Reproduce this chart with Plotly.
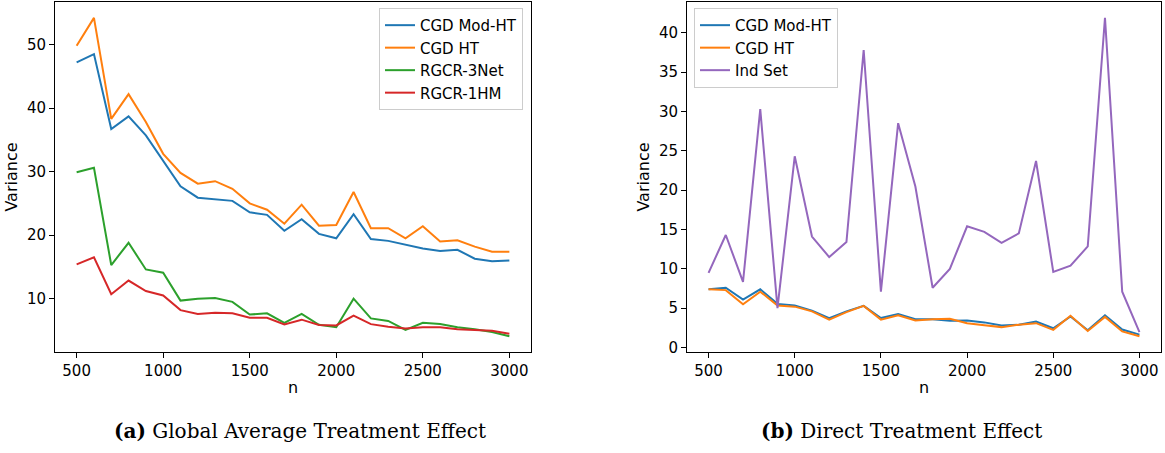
import plotly.graph_objects as go

n = [500, 600, 700, 800, 900, 1000, 1100, 1200, 1300, 1400, 1500, 1600, 1700,
     1800, 1900, 2000, 2100, 2200, 2300, 2400, 2500, 2600, 2700, 2800, 2900, 3000]

# (a) Global Average Treatment Effect
gate_cgd_mod_ht = [47.2, 48.5, 36.7, 38.7, 35.7, 31.7, 27.7, 25.9, 25.7, 25.4, 23.6, 23.2, 20.7,
                   22.5, 20.2, 19.5, 23.3, 19.4, 19.1, 18.5, 17.9, 17.5, 17.7, 16.3, 15.9, 16.0]
gate_cgd_ht = [49.8, 54.2, 38.3, 42.2, 37.8, 32.8, 29.8, 28.1, 28.5, 27.3, 25.0, 24.0, 21.8,
               24.8, 21.5, 21.6, 26.8, 21.1, 21.1, 19.5, 21.4, 19.0, 19.2, 18.2, 17.4, 17.4]
gate_rgcr_3net = [29.9, 30.6, 15.3, 18.8, 14.6, 14.1, 9.7, 10.0, 10.1, 9.5, 7.5, 7.7, 6.2,
                  7.6, 5.9, 5.5, 10.0, 6.9, 6.5, 5.1, 6.2, 6.0, 5.5, 5.2, 4.75, 4.1]
gate_rgcr_1hm = [15.4, 16.5, 10.7, 12.85, 11.2, 10.5, 8.2, 7.6, 7.8, 7.7, 7.0, 7.0, 5.95,
                 6.7, 5.85, 5.8, 7.35, 6.0, 5.6, 5.3, 5.5, 5.5, 5.2, 5.1, 4.95, 4.5]

# (b) Direct Treatment Effect
dte_cgd_mod_ht = [7.4, 7.6, 6.1, 7.4, 5.55, 5.35, 4.7, 3.75, 4.6, 5.3, 3.75, 4.25, 3.6,
                  3.6, 3.4, 3.45, 3.2, 2.8, 2.9, 3.3, 2.45, 3.95, 2.2, 4.1, 2.3, 1.65]
dte_cgd_ht = [7.4, 7.3, 5.5, 7.1, 5.35, 5.2, 4.6, 3.55, 4.5, 5.3, 3.55, 4.1, 3.45,
              3.6, 3.65, 3.1, 2.85, 2.6, 2.9, 3.1, 2.25, 4.05, 2.1, 3.9, 2.05, 1.45]
dte_ind_set = [9.5, 14.3, 8.35, 30.3, 5.0, 24.3, 14.1, 11.5, 13.4, 37.8, 7.1, 28.5, 20.45,
               7.6, 10.0, 15.4, 14.7, 13.3, 14.5, 23.7, 9.6, 10.4, 12.85, 41.9, 7.1, 1.96]

x_ticks = [500, 1000, 1500, 2000, 2500, 3000]
left_y_ticks = [10, 20, 30, 40, 50]
right_y_ticks = [0, 5, 10, 15, 20, 25, 30, 35, 40]
captions = ["<b>(a)</b> Global Average Treatment Effect", "<b>(b)</b> Direct Treatment Effect"]

BLUE, ORANGE, GREEN, RED, PURPLE = "#1f77b4", "#ff7f0e", "#2ca02c", "#d62728", "#9467bd"
W, H = 1165, 453
FONT = "DejaVu Sans"

fig = go.Figure()

def add(x, y, name, color, xa, ya, legend):
    fig.add_trace(go.Scatter(x=x, y=y, name=name, mode="lines",
                             line=dict(color=color, width=2),
                             xaxis=xa, yaxis=ya, legend=legend))

add(n, gate_cgd_mod_ht, "CGD Mod-HT", BLUE, "x", "y", "legend")
add(n, gate_cgd_ht, "CGD HT", ORANGE, "x", "y", "legend")
add(n, gate_rgcr_3net, "RGCR-3Net", GREEN, "x", "y", "legend")
add(n, gate_rgcr_1hm, "RGCR-1HM", RED, "x", "y", "legend")

add(n, dte_cgd_mod_ht, "CGD Mod-HT", BLUE, "x2", "y2", "legend2")
add(n, dte_cgd_ht, "CGD HT", ORANGE, "x2", "y2", "legend2")
add(n, dte_ind_set, "Ind Set", PURPLE, "x2", "y2", "legend2")

def ax_common():
    return dict(showline=True, linecolor="black", linewidth=1, mirror=True,
                ticks="outside", ticklen=5, tickwidth=1, tickcolor="black",
                showgrid=False, zeroline=False,
                tickfont=dict(family=FONT, size=15, color="black"))

ytop = 1 - 2 / H
ybot = 1 - 356 / H
TFONT = dict(family=FONT, size=16, color="black")

fig.update_layout(
    width=W, height=H,
    margin=dict(l=0, r=0, t=0, b=0),
    plot_bgcolor="white", paper_bgcolor="white",
    xaxis=dict(domain=[55 / W, 531 / W], range=[375, 3125], tickvals=x_ticks,
               title=dict(text="n", font=TFONT, standoff=2),
               anchor="y", **ax_common()),
    yaxis=dict(domain=[ybot, ytop], range=[1.6, 56.7], tickvals=left_y_ticks,
               title=dict(text="Variance", font=TFONT, standoff=5),
               anchor="x", **ax_common()),
    xaxis2=dict(domain=[687 / W, 1161 / W], range=[375, 3125], tickvals=x_ticks,
                title=dict(text="n", font=TFONT, standoff=2),
                anchor="y2", **ax_common()),
    yaxis2=dict(domain=[ybot, ytop], range=[-0.57, 43.9], tickvals=right_y_ticks,
                title=dict(text="Variance", font=TFONT, standoff=5),
                anchor="x2", **ax_common()),
    legend=dict(x=523 / W, y=1 - 8 / H, xanchor="right", yanchor="top",
                bgcolor="rgba(255,255,255,0.8)", bordercolor="#cccccc", borderwidth=1,
                font=dict(family=FONT, size=15, color="black"), tracegroupgap=0,
                itemwidth=30),
    legend2=dict(x=694 / W, y=1 - 8 / H, xanchor="left", yanchor="top",
                 bgcolor="rgba(255,255,255,0.8)", bordercolor="#cccccc", borderwidth=1,
                 font=dict(family=FONT, size=15, color="black"), tracegroupgap=0,
                 itemwidth=30),
    showlegend=True,
)

fig.add_annotation(text=captions[0], x=300 / W, y=1 - 436 / H, xref="paper", yref="paper",
                   showarrow=False, xanchor="center", yanchor="middle",
                   font=dict(family="DejaVu Serif", size=20, color="black"))
fig.add_annotation(text=captions[1], x=901.5 / W, y=1 - 436 / H, xref="paper", yref="paper",
                   showarrow=False, xanchor="center", yanchor="middle",
                   font=dict(family="DejaVu Serif", size=20, color="black"))

fig.write_html("out.html")
